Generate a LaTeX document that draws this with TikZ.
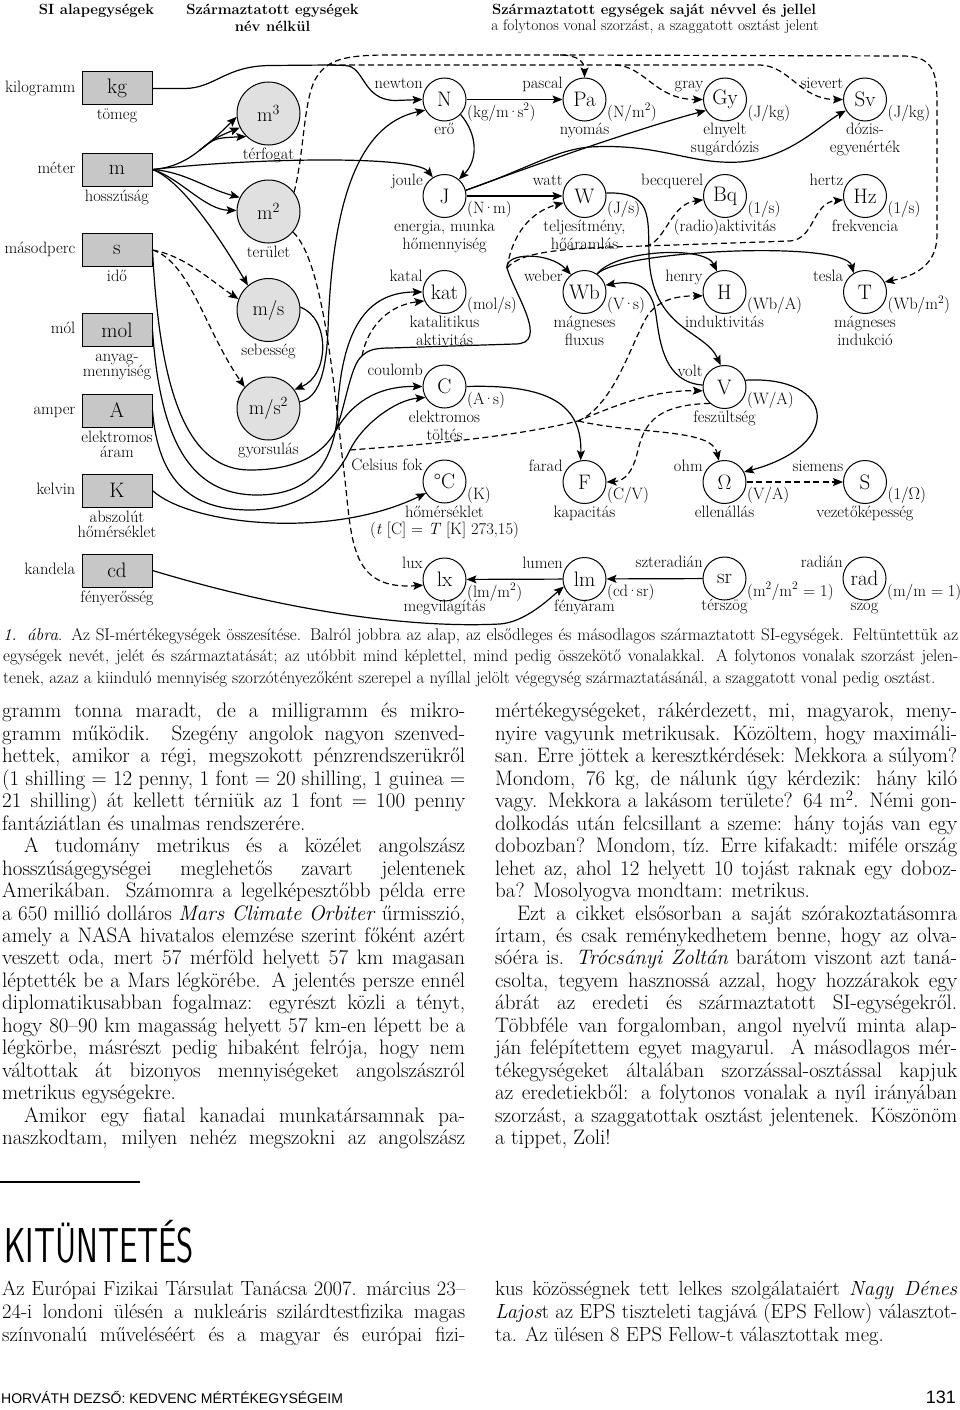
\documentclass[tikz,border=0pt]{standalone}
\usepackage{fontspec}
\newfontfamily\footfont{Liberation Sans}
\usepackage{tikz}
\usetikzlibrary{arrows.meta}
% stacked lines, baseline on the first one
\newcommand{\twol}[3][18]{\vtop{\baselineskip=#1pt\lineskiplimit=-20pt\halign{\hfil##\hfil\cr#2\cr#3\cr}}}
% one justified text line
\newcommand{\jl}[1]{\makebox[\linewidth][s]{#1}\\}
% tight centred dot
\newcommand{\md}{\kern-1.6pt·\kern-1.6pt}
\tikzset{
  >=Stealth,
  font=\fontsize{16.5}{18}\selectfont,
  sibase/.style={draw,line width=1pt,fill=black!22,minimum width=70pt,minimum height=33pt,
                 inner sep=0pt,font=\fontsize{21}{21}\selectfont},
  noname/.style={circle,draw,line width=1pt,fill=black!12,minimum size=63pt,inner sep=0pt,
                 font=\fontsize{20}{20}\selectfont},
  unitc/.style={circle,draw,line width=1pt,fill=white,minimum size=43pt,inner sep=0pt,
                font=\fontsize{21}{21}\selectfont},
  lname/.style={font=\fontsize{16.5}{18}\selectfont,anchor=base east,inner sep=0pt,label distance=2pt},
  lform/.style={font=\fontsize{16.5}{18}\selectfont,anchor=base west,inner sep=0pt,label distance=6.5pt},
  ldesc/.style={font=\fontsize{16.5}{18}\selectfont,anchor=base,inner sep=0pt,label distance=13.5pt},
  bname/.style={font=\fontsize{16.5}{18}\selectfont,anchor=base east,inner sep=0pt,label distance=6pt},
  bdesc/.style={font=\fontsize{16.5}{18}\selectfont,anchor=base,inner sep=0pt,label distance=14.5pt},
  head/.style={font=\fontsize{14.8}{16.5}\selectfont\bfseries,anchor=base,inner sep=0pt},
  mult/.style={line width=1.2pt,-{Stealth[length=10pt,width=8pt,inset=2pt]}},
  divd/.style={mult,dash pattern=on 6pt off 3.5pt},
  trunk/.style={line width=1.2pt},
}
\begin{document}
\begin{tikzpicture}[x=1pt,y=-1pt]
  \fill[white] (0,0) rectangle (960,1410);
  \useasboundingbox (0,0) rectangle (960,1410);

  % headings
  \node[head] (h1) at (96.5,15) {SI alapegységek};
  \node[head] (h2) at (272.5,15) {\twol[17]{Származtatott egységek}{név nélkül}};
  \node[head] (h3) at (654,15) {Származtatott egységek saját névvel és jellel};
  \node[anchor=base,inner sep=0pt,font=\fontsize{15.4}{16.5}\selectfont] (h4) at (655,31)
    {a folytonos vonal szorzást, a szaggatott osztást jelent};

  % base units
  \node[sibase,label={[bname]185:kilogramm},label={[bdesc]-90:tömeg}] (kg) at (117,88.5) {kg};
  \node[sibase,label={[bname]185:méter},label={[bdesc]-90:hosszúság}] (m) at (117,169.5) {m};
  \node[sibase,label={[bname]185:másodperc},label={[bdesc]-90:idő}] (s) at (117,250) {s};
  \node[sibase,label={[bname]185:mól},label={[bdesc]-90:\twol[15]{anyag-}{mennyiség}}] (mol) at (117,330) {mol};
  \node[sibase,label={[bname]185:amper},label={[bdesc]-90:\twol[15]{elektromos}{áram}}] (A) at (117,410.5) {A};
  \node[sibase,label={[bname]185:kelvin},label={[bdesc]-90:\twol[15]{abszolút}{hőmérséklet}}] (K) at (117,490.5) {K};
  \node[sibase,label={[bname]185:kandela},label={[bdesc]-90:fényerősség}] (cd) at (117,570.5) {cd};

  % derived units without a name
  \node[noname,label={[ldesc]-90:térfogat}] (m3) at (268.5,113.5) {m\textsuperscript{3}};
  \node[noname,label={[ldesc]-90:terület}] (m2) at (268.5,211.5) {m\textsuperscript{2}};
  \node[noname,label={[ldesc]-90:sebesség}] (ms) at (268.5,310) {m/s};
  \node[noname,label={[ldesc]-90:gyorsulás}] (ms2) at (268.5,408.5) {m/s\textsuperscript{2}};

  % derived units with own name
  \node[unitc,label={[lname]154:newton},label={[lform]-38:{(kg/m\md s\textsuperscript{2})}},label={[ldesc]-90:erő}] (N) at (444.5,99.5) {N};
  \node[unitc,label={[lname]154:pascal},label={[lform]-38:{(N/m\textsuperscript{2})}},label={[ldesc]-90:nyomás}] (Pa) at (584.5,99.5) {Pa};
  \node[unitc,label={[lname]154:gray},label={[lform]-38:{(J/kg)}},label={[ldesc]-90:\twol{elnyelt}{sugárdózis}}] (Gy) at (725,99.5) {Gy};
  \node[unitc,label={[lname]154:sievert},label={[lform]-38:{(J/kg)}},label={[ldesc]-90:\twol{dózis-}{egyenérték}}] (Sv) at (865,99.5) {Sv};

  \node[unitc,label={[lname]154:joule},label={[lform]-38:{(N\md m)}},label={[ldesc]-90:\twol{energia, munka}{hőmennyiség}}] (J) at (444.5,196) {J};
  \node[unitc,label={[lname]154:watt},label={[lform]-38:{(J/s)}},label={[ldesc]-90:\twol{teljesítmény,}{hőáramlás}}] (W) at (584.5,196) {W};
  \node[unitc,label={[lname]154:becquerel},label={[lform]-38:{(1/s)}},label={[ldesc]-90:(radio)aktivitás}] (Bq) at (725,196) {Bq};
  \node[unitc,label={[lname]154:hertz},label={[lform]-38:{(1/s)}},label={[ldesc]-90:frekvencia}] (Hz) at (865,196) {Hz};

  \node[unitc,label={[lname]154:katal},label={[lform]-38:{(mol/s)}},label={[ldesc]-90:\twol{katalitikus}{aktivitás}}] (kat) at (444.5,292) {kat};
  \node[unitc,label={[lname]154:weber},label={[lform]-38:{(V\md s)}},label={[ldesc]-90:\twol{mágneses}{fluxus}}] (Wb) at (584.5,292) {Wb};
  \node[unitc,label={[lname]154:henry},label={[lform]-38:{(Wb/A)}},label={[ldesc]-90:induktivitás}] (H) at (724.5,292) {H};
  \node[unitc,label={[lname]154:tesla},label={[lform]-38:{(Wb/m\textsuperscript{2})}},label={[ldesc]-90:\twol{mágneses}{indukció}}] (T) at (865,292) {T};

  \node[unitc,label={[lname]154:coulomb},label={[lform]-38:{(A\md s)}},label={[ldesc]-90:\twol{elektromos}{töltés}}] (C) at (444.5,386.5) {C};
  \node[unitc,label={[lname]154:volt},label={[lform]-38:{(W/A)}},label={[ldesc]-90:feszültség}] (V) at (724.5,387) {V};

  \node[unitc,label={[lname]154:Celsius fok},label={[lform]-38:{(K)}},label={[ldesc]-90:\twol[17]{hőmérséklet}{(\textit{t} [C] = \textit{T} [K] 273,15)}}] (degC) at (444.5,481.5) {°C};
  \node[unitc,label={[lname]154:farad},label={[lform]-38:{(C/V)}},label={[ldesc]-90:kapacitás}] (F) at (584.5,482) {F};
  \node[unitc,label={[lname]154:ohm},label={[lform]-38:{(V/A)}},label={[ldesc]-90:ellenállás}] (Om) at (724.5,482) {$\Omega$};
  \node[unitc,label={[lname]154:siemens},label={[lform]-38:{(1/$\Omega$)}},label={[ldesc]-90:vezetőképesség}] (S) at (865,482) {S};

  \node[unitc,label={[lname]154:lux},label={[lform]-38:{(lm/m\textsuperscript{2})}},label={[ldesc,label distance=10pt]-90:megvilágítás}] (lx) at (444.5,579.5) {lx};
  \node[unitc,label={[lname]154:lumen},label={[lform]-38:{(cd\md sr)}},label={[ldesc,label distance=10pt]-90:fényáram}] (lm) at (584.5,579) {lm};
  \node[unitc,label={[lname]154:szteradián},label={[lform]-38:{(m\textsuperscript{2}/m\textsuperscript{2} = 1)}},label={[ldesc,label distance=10pt]-90:térszög}] (sr) at (724.5,578.5) {sr};
  \node[unitc,label={[lname]154:radián},label={[lform]-38:{(m/m = 1)}},label={[ldesc,label distance=10pt]-90:szög}] (rad) at (864.5,578.5) {rad};

  % branch points
  \coordinate (kgbr) at (330,65);
  \coordinate (gybr) at (615,65);
  \coordinate (pabr) at (560,55);
  \coordinate (mbr) at (200,150);
  \coordinate (sbr) at (335,432);
  \coordinate (katbr) at (362,356);
  \coordinate (wbbr) at (507,268);
  \coordinate (bqbr) at (645,246);
  \coordinate (abr) at (350,450);
  \coordinate (vbr) at (578,421);

  % kilogramm
  \draw[mult] (kg.east) -- (185,88.5) .. controls (215,88) and (225,66) .. (270,65.5) -- (kgbr) -- (345,65.5)
    .. controls (365,66) and (362,100) .. (395,100.5) -- (N.west);
  \draw[divd] (kgbr) -- (gybr) .. controls (645,66) and (655,99.5) .. (Gy.west);
  \draw[divd] (gybr) -- (760,65) .. controls (790,66) and (800,99.5) .. (Sv.west);

  % meter
  \draw[trunk] (m.east) .. controls (175,168) and (190,158) .. (mbr);
  \foreach \a in {186,206,226}
    \draw[mult] (mbr) .. controls (215,138) .. (m3.\a);
  \draw[mult] (m.east) .. controls (185,172) and (205,188) .. (m2.154);
  \draw[mult] (m.east) .. controls (180,178) and (205,210) .. (m2.178);
  \draw[mult] (m.east) .. controls (180,180) and (215,230) .. (ms.130);
  \draw[mult] (m.east) .. controls (250,158) and (415,155) .. (J.122);

  % square meter
  \draw[divd] (m2.37) .. controls (305,150) and (303,95) .. (318,75) .. controls (330,58) and (350,55) .. (390,55)
    -- (pabr) .. controls (578,55) and (584.5,62) .. (Pa.north);
  \draw[divd] (pabr) -- (905,56) .. controls (935,57) and (937,75) .. (937,105) -- (937,235)
    .. controls (937,265) and (915,276) .. (T.27);
  \draw[divd] (m2.-40) .. controls (325,262) and (335,400) .. (345,480) .. controls (352,545) and (352,590) .. (lx.195);

  % second
  \draw[divd] (s.east) .. controls (185,256) and (210,280) .. (ms.160);
  \draw[divd] (s.east) .. controls (190,262) and (205,330) .. (ms2.138);
  \draw[trunk] (s.east) .. controls (160,400) and (190,470) .. (250,470) .. controls (295,470) and (322,455) .. (sbr);
  \draw[mult] (sbr) .. controls (350,405) and (375,386) .. (C.west);
  \draw[mult] (sbr) .. controls (345,410) and (350,365) .. (katbr) .. controls (368,350) and (375,348) .. (390,348)
    -- (515,344) .. controls (550,344) and (515,295) .. (wbbr) .. controls (505,252) and (550,252) .. (Wb.128);
  \draw[divd] (katbr) .. controls (368,325) and (390,305) .. (kat.204);
  \draw[divd] (wbbr) .. controls (512,235) and (530,212) .. (W.198);
  \draw[divd] (wbbr) .. controls (520,252) and (560,248) .. (bqbr) .. controls (665,244) and (670,204) .. (Bq.190);
  \draw[divd] (bqbr) -- (790,241) .. controls (815,239) and (812,203) .. (Hz.190);

  % mol, amper, kelvin, kandela
  \draw[mult] (mol.east) .. controls (160,440) and (190,495) .. (257,495) .. controls (312,495) and (332,462) .. (337,420)
    .. controls (340,340) and (360,292) .. (kat.west);
  \draw[mult] (A.east) .. controls (158,480) and (190,510) .. (250,510) .. controls (302,510) and (335,482) .. (abr)
    .. controls (362,425) and (395,400) .. (C.210);
  \draw[divd] (abr) .. controls (400,446) and (500,440) .. (vbr) .. controls (610,408) and (650,390) .. (V.190);
  \draw[divd] (vbr) .. controls (615,405) and (632,340) .. (648,315) .. controls (660,298) and (680,296) .. (H.190);
  \draw[divd] (vbr) .. controls (640,435) and (712,428) .. (Om.105);
  \draw[mult] (K.east) .. controls (190,525) and (330,540) .. (degC.212);
  \draw[mult] (cd.east) .. controls (300,615) and (420,628) .. (500,624) .. controls (525,622) and (548,600) .. (lm.200);

  % velocity, acceleration
  \draw[mult] (ms.5) .. controls (330,318) and (330,375) .. (ms2.36);
  \draw[mult] (ms2.12) .. controls (318,398) and (326,375) .. (328,330) .. controls (332,210) and (355,125) .. (N.209);

  % between named units
  \draw[mult] (N) -- (Pa);
  \draw[mult] (N.-43) .. controls (478,135) and (478,160) .. (J.49);
  \draw[mult] (J) -- (W);
  \draw[mult] (J.15) .. controls (540,163) and (640,128) .. (Gy.210);
  \draw[mult] (J.15) .. controls (530,168) and (555,150) .. (590,147) .. controls (660,143) and (690,165) .. (740,162)
    .. controls (790,158) and (820,125) .. (Sv.210);
  \draw[mult] (W.8) .. controls (652,192) and (648,215) .. (649,255) .. controls (651,330) and (705,330) .. (V.100);
  \draw[mult] (V.175) .. controls (665,382) and (660,345) .. (656,315) .. controls (652,285) and (635,280) .. (Wb.18);
  \draw[mult] (Wb.55) .. controls (615,250) and (705,245) .. (H.110);
  \draw[mult] (Wb.55) .. controls (620,250) and (845,240) .. (T.121);
  \draw[mult] (C.east) .. controls (550,384) and (582,405) .. (F.100);
  \draw[divd] (V.228) .. controls (660,405) and (645,420) .. (638,450) .. controls (633,472) and (625,481) .. (F.east);
  \draw[mult] (V.18) .. controls (835,375) and (845,445) .. (Om.27);
  \draw[divd] (Om) -- (S);
  \draw[mult] (sr) -- (lm);
  \draw[mult] (lm) -- (lx);

  % caption
  \node[anchor=base west,inner sep=0pt] (capt) at (3,640) {\parbox[t]{955pt}{\fontsize{17}{21.5}\selectfont
    \jl{\textit{1. ábra}. Az SI-mértékegységek összesítése. Balról jobbra az alap, az elsődleges és másodlagos származtatott SI-egységek. Feltüntettük az}
    \jl{egységek nevét, jelét és származtatását; az utóbbit mind képlettel, mind pedig összekötő vonalakkal. A folytonos vonalak szorzást jelen-}
    tenek, azaz a kiinduló mennyiség szorzótényezőként szerepel a nyíllal jelölt végegység származtatásánál, a szaggatott vonal pedig osztást.}};

  % article text
  \node[anchor=base west,inner sep=0pt] (coll) at (2,717.7) {\parbox[t]{463pt}{\fontsize{21}{22.48}\selectfont
    \jl{gramm tonna maradt, de a milligramm és mikro-}
    \jl{gramm működik. Szegény angolok nagyon szenved-}
    \jl{hettek, amikor a régi, megszokott pénzrendszerükről}
    \jl{(1 shilling = 12 penny, 1 font = 20 shilling, 1 guinea =}
    \jl{21 shilling) át kellett térniük az 1 font = 100 penny}
    fantáziátlan és unalmas rendszerére.\\
    \jl{\hspace*{22pt}A tudomány metrikus és a közélet angolszász}
    \jl{hosszúságegységei meglehetős zavart jelentenek}
    \jl{Amerikában. Számomra a legelképesztőbb példa erre}
    \jl{a 650 millió dolláros \textit{Mars Climate Orbiter} űrmisszió,}
    \jl{amely a NASA hivatalos elemzése szerint főként azért}
    \jl{veszett oda, mert 57 mérföld helyett 57 km magasan}
    \jl{léptették be a Mars légkörébe. A jelentés persze ennél}
    \jl{diplomatikusabban fogalmaz: egyrészt közli a tényt,}
    \jl{hogy 80–90 km magasság helyett 57 km-en lépett be a}
    \jl{légkörbe, másrészt pedig hibaként felrója, hogy nem}
    \jl{váltottak át bizonyos mennyiségeket angolszászról}
    metrikus egységekre.\\
    \jl{\hspace*{22pt}Amikor egy fiatal kanadai munkatársamnak pa-}
    \makebox[\linewidth][s]{naszkodtam, milyen nehéz megszokni az angolszász}}};
  \node[anchor=base west,inner sep=0pt] (colr) at (495,717.7) {\parbox[t]{462pt}{\fontsize{21}{22.48}\selectfont
    \jl{mértékegységeket, rákérdezett, mi, magyarok, meny-}
    \jl{nyire vagyunk metrikusak. Közöltem, hogy maximáli-}
    \jl{san. Erre jöttek a keresztkérdések: Mekkora a súlyom?}
    \jl{Mondom, 76 kg, de nálunk úgy kérdezik: hány kiló}
    \jl{vagy. Mekkora a lakásom területe? 64 m\textsuperscript{2}. Némi gon-}
    \jl{dolkodás után felcsillant a szeme: hány tojás van egy}
    \jl{dobozban? Mondom, tíz. Erre kifakadt: miféle ország}
    \jl{lehet az, ahol 12 helyett 10 tojást raknak egy doboz-}
    ba? Mosolyogva mondtam: metrikus.\\
    \jl{\hspace*{22pt}Ezt a cikket elsősorban a saját szórakoztatásomra}
    \jl{írtam, és csak reménykedhetem benne, hogy az olva-}
    \jl{sóéra is. \textit{Trócsányi Zoltán} barátom viszont azt taná-}
    \jl{csolta, tegyem hasznossá azzal, hogy hozzárakok egy}
    \jl{ábrát az eredeti és származtatott SI-egységekről.}
    \jl{Többféle van forgalomban, angol nyelvű minta alap-}
    \jl{ján felépítettem egyet magyarul. A másodlagos mér-}
    \jl{tékegységeket általában szorzással-osztással kapjuk}
    \jl{az eredetiekből: a folytonos vonalak a nyíl irányában}
    \jl{szorzást, a szaggatottak osztást jelentenek. Köszönöm}
    a tippet, Zoli!}};

  % news item
  \draw[line width=1.2pt] (0,1182) -- (140,1182);
  \node[anchor=base west,inner sep=0pt] (kit) at (4,1262)
    {\scalebox{0.67}[1]{\fontsize{49}{49}\selectfont\sffamily KITÜNTETÉS}};
  \node[anchor=base west,inner sep=0pt] (epsl) at (2,1295) {\parbox[t]{463pt}{\fontsize{20.5}{23}\selectfont
    \jl{Az Európai Fizikai Társulat Tanácsa 2007. március 23–}
    \jl{24-i londoni ülésén a nukleáris szilárdtestfizika magas}
    \makebox[\linewidth][s]{színvonalú műveléséért és a magyar és európai fizi-}}};
  \node[anchor=base west,inner sep=0pt] (epsr) at (495,1295) {\parbox[t]{462pt}{\fontsize{20.5}{23}\selectfont
    \jl{kus közösségnek tett lelkes szolgálataiért \textit{Nagy Dénes}}
    \jl{\textit{Lajos}t az EPS tiszteleti tagjává (EPS Fellow) választot-}
    ta. Az ülésen 8 EPS Fellow-t választottak meg.}};

  % running foot
  \node[anchor=base west,inner sep=0pt,font=\footfont\fontsize{14}{14}\selectfont] (foot) at (1,1403)
    {HORVÁTH DEZSŐ: KEDVENC MÉRTÉKEGYSÉGEIM};
  \node[anchor=base east,inner sep=0pt,font=\footfont\fontsize{18}{18}\selectfont] (page) at (956,1403) {131};
\end{tikzpicture}
\end{document}
